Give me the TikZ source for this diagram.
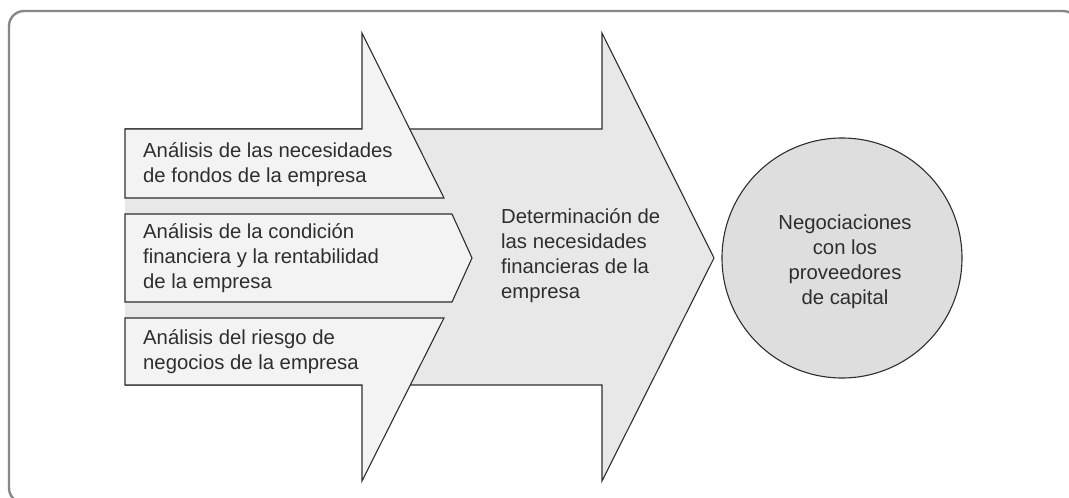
\documentclass[tikz,border=0pt]{standalone}
\usepackage{fontspec}
\setmainfont{Liberation Sans}
\definecolor{framegray}{HTML}{888888}
\definecolor{bigfill}{HTML}{E8E8E8}
\definecolor{smallfill}{HTML}{F4F3F4}
\definecolor{circfill}{HTML}{DEDEDE}
\definecolor{edge}{HTML}{2E2E2E}
\definecolor{txt}{HTML}{2E2E2E}
\tikzset{
  shapeline/.style={draw=edge, line width=1.1pt, line join=miter},
  lbl/.style={inner sep=0pt, align=left, text=txt, font=\fontsize{20.3}{25}\selectfont},
  clbl/.style={inner sep=0pt, align=center, text=txt, font=\fontsize{20.3}{25}\selectfont},
}
\begin{document}
\begin{tikzpicture}[x=1pt,y=-1pt]
\useasboundingbox (0,0) rectangle (1069,498);
% frame (right and bottom sides run past the picture edge)
\draw[framegray, line width=2.4pt, rounded corners=15pt] (9,11) rectangle (1078,503);
% big arrow
\fill[bigfill] (125,129) -- (602,129) -- (602,33) -- (714,258) -- (602,481) -- (602,385) -- (125,385) -- cycle;
\draw[shapeline] (125,129) -- (602,129) -- (602,33) -- (714,258) -- (602,481) -- (602,385) -- (125,385);
% small arrows
\filldraw[shapeline, fill=smallfill] (125,129) -- (362,129) -- (362,33) -- (444,198) -- (125,198) -- cycle;
\filldraw[shapeline, fill=smallfill] (125,214) -- (452,214) -- (472,258) -- (452,302) -- (125,302) -- cycle;
\filldraw[shapeline, fill=smallfill] (125,318) -- (444,318) -- (362,481) -- (362,385) -- (125,385) -- cycle;
% circle
\node[circle, shapeline, fill=circfill, minimum size=240pt, inner sep=0pt] (neg) at (842,258) {};
% labels
\node[lbl, anchor=west] (a1) at (143,165) {Análisis de las necesidades\\de fondos de la empresa};
\node[lbl, anchor=west] (a2) at (143,258) {Análisis de la condición\\financiera y la rentabilidad\\de la empresa};
\node[lbl, anchor=west] (a3) at (143,352) {Análisis del riesgo de\\negocios de la empresa};
\node[lbl, anchor=west] (det) at (501,256) {Determinación de\\las necesidades\\financieras de la\\empresa};
\node[clbl] (negt) at (845,262) {Negociaciones\\con los\\proveedores\\de capital};
\end{tikzpicture}
\end{document}
